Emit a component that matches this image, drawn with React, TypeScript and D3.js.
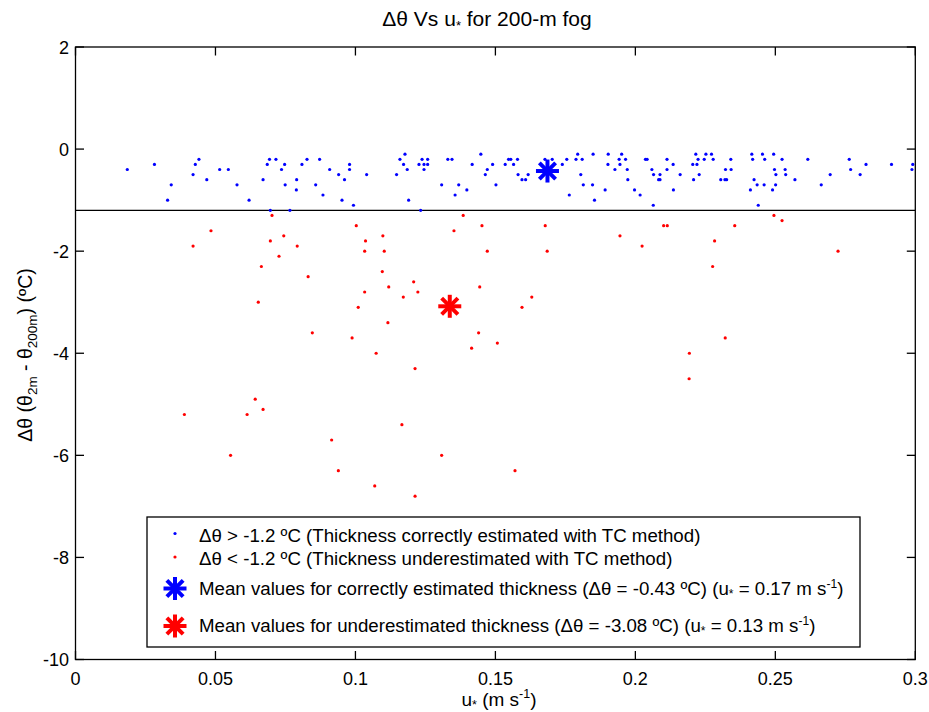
import React from "react";
import * as d3 from "d3";

// ---- data ----
const blueU = [0.0185,0.0282,0.0329,0.0342,0.0420,0.0428,0.0441,0.0469,0.0515,0.0546,0.0577,0.0620,0.0670,0.0685,0.0693,0.0696,0.0716,0.0736,0.0747,0.0749,0.0766,0.0789,0.0790,0.0809,0.0827,0.0858,0.0872,0.0884,0.0908,0.0940,0.0952,0.0961,0.0979,0.0979,0.0993,0.1040,0.1147,0.1159,0.1172,0.1177,0.1185,0.1190,0.1227,0.1233,0.1238,0.1245,0.1245,0.1258,0.1258,0.1308,0.1330,0.1345,0.1356,0.1369,0.1398,0.1417,0.1448,0.1464,0.1471,0.1490,0.1502,
0.1535,0.1547,0.1555,0.1565,0.1579,0.1581,0.1595,0.1608,0.1617,0.1677,0.1703,0.1739,0.1755,0.1764,0.1788,0.1794,0.1805,0.1810,0.1814,0.1847,0.1849,0.1854,0.1892,0.1902,0.1903,0.1927,0.1942,0.1945,0.1951,0.1965,0.1971,0.1973,0.1997,0.2017,0.2036,0.2042,0.2059,0.2064,0.2065,0.2083,0.2088,0.2088,0.2113,0.2113,0.2135,0.2136,0.2160,0.2205,0.2208,0.2216,0.2220,0.2224,0.2228,0.2246,0.2252,0.2272,0.2278,0.2305,0.2320,0.2326,0.2322,0.2341,0.2342,0.2411,0.2416,0.2419,0.2424,0.2435,0.2439,0.2454,0.2460,0.2462,0.2490,0.2494,0.2497,0.2501,0.2502,0.2524,0.2535,0.2537,0.2570,0.2616,0.2664,0.2696,0.2764,0.2769,0.2803,0.2824,0.2915,0.2988,0.2991];
const blueD = [-0.4,-0.3,-1.0,-0.7,-0.5,-0.3,-0.2,-0.6,-0.4,-0.4,-0.7,-1.0,-0.6,-0.3,-0.2,-1.2,-0.2,-0.4,-0.3,-0.7,-1.2,-0.8,-0.6,-0.3,-0.2,-0.7,-0.2,-0.9,-0.4,-0.5,-1.0,-0.6,-0.3,-0.4,-1.1,-0.5,-0.5,-0.2,-0.3,-0.1,-0.4,-1.0,-0.3,-1.2,-0.2,-0.4,-0.3,-0.2,-0.3,-0.7,-0.2,-0.2,-0.9,-0.7,-0.8,-0.3,-0.1,-0.5,-0.4,-0.3,-0.7,
-0.3,-0.2,-0.2,-0.3,-0.2,-0.5,-0.6,-0.6,-0.5,-0.2,-0.2,-0.3,-0.2,-0.9,-0.2,-0.1,-0.5,-0.2,-0.7,-0.7,-0.1,-1.0,-0.8,-0.3,-0.1,-0.4,-0.2,-0.3,-0.1,-0.2,-0.4,-0.6,-0.8,-0.9,-0.2,-0.2,-0.4,-1.1,-0.5,-0.6,-0.5,-0.6,-0.2,-0.4,-0.3,-0.8,-0.5,-0.3,-0.6,-0.1,-0.3,-0.2,-0.5,-0.2,-0.1,-0.1,-0.2,-0.6,-0.6,-0.6,-0.4,-0.2,-0.4,-0.8,-0.1,-0.2,-0.6,-0.7,-1.1,-0.1,-0.7,-0.2,-0.8,-0.1,-0.4,-0.7,-0.5,-0.2,-0.4,-0.5,-0.6,-0.2,-0.7,-0.5,-0.2,-0.4,-0.5,-0.3,-0.3,-0.4,-0.3];

const redU = [0.0702,0.0484,0.0420,0.0696,0.0744,0.0792,0.0727,0.0664,0.0831,0.0653,0.1003,0.1010,0.0846,0.0988,0.0642,0.0389,0.0613,0.0670,0.0554,0.0915,0.0939,0.1385,0.1452,0.1678,0.1352,0.1098,0.1945,0.1036,0.1033,0.1103,0.1471,0.1685,0.1096,0.1208,0.1119,0.1033,0.1223,0.1444,0.1171,0.1630,0.1595,0.1116,0.1440,0.1507,0.1415,0.1074,0.1213,0.1166,0.1308,0.1570,0.1069,0.1213,0.2495,0.2524,0.2101,0.2114,0.2355,0.2024,0.2283,0.2724,0.2276,0.2321,0.2193,0.2192];
const redD = [-1.3,-1.6,-1.9,-1.8,-1.7,-1.9,-2.1,-2.3,-2.5,-3.0,-1.5,-3.1,-3.6,-3.7,-4.9,-5.2,-5.2,-5.1,-6.0,-5.7,-6.3,-1.3,-1.5,-1.5,-1.6,-1.7,-1.7,-1.8,-2.0,-2.0,-2.0,-2.0,-2.4,-2.6,-2.7,-2.8,-2.8,-2.7,-2.9,-2.9,-3.1,-3.4,-3.6,-3.8,-3.9,-4.0,-4.3,-5.4,-6.0,-6.3,-6.6,-6.8,-1.3,-1.4,-1.5,-1.5,-1.5,-1.9,-1.8,-2.0,-2.3,-3.7,-4.0,-4.5];

const meanBlue = { u: 0.1686, d: -0.43 };
const meanRed = { u: 0.1337, d: -3.08 };
const threshold = -1.2;

const xTicks = [0, 0.05, 0.1, 0.15, 0.2, 0.25, 0.3];
const yTicks = [2, 0, -2, -4, -6, -8, -10];
const xDomain = [0, 0.3];
const yDomain = [-10, 2];

const legendLabels = [
  "Δθ > -1.2 ºC (Thickness correctly estimated with TC method)",
  "Δθ < -1.2 ºC (Thickness underestimated with TC method)",
];

// ---- layout ----
const W = 929, H = 712;
const L = 75.5, R = 915.3, T = 47, B = 659.5;
const FONT = "'Liberation Sans', Arial, Helvetica, sans-serif";
const BLUE = "#0000ff", RED = "#ff0000";

function Star({ cx, cy, color, r = 11.5 }: { cx: number; cy: number; color: string; r?: number }) {
  const arms = d3.range(4).map((i) => (i * Math.PI) / 4);
  return (
    <g stroke={color} strokeWidth={4} strokeLinecap="butt">
      {arms.map((a, i) => (
        <line key={i} x1={cx - r * Math.cos(a)} y1={cy - r * Math.sin(a)} x2={cx + r * Math.cos(a)} y2={cy + r * Math.sin(a)} />
      ))}
    </g>
  );
}

export default function App() {
  const x = d3.scaleLinear().domain(xDomain).range([L, R]);
  const y = d3.scaleLinear().domain(yDomain).range([B, T]);
  const tickLen = 8.5;
  const fmtX = (v: number) => String(+v.toFixed(2));

  const blue = blueU.map((u, i) => ({ u, d: blueD[i] }));
  const red = redU.map((u, i) => ({ u, d: redD[i] }));

  const lgX = 147, lgY = 517, lgW = 713, lgH = 130;
  const mx = 175, tx = 199;
  const LF = 18.7;

  return (
    <svg width={W} height={H} style={{ position: "absolute", left: 0, top: 0, background: "#fff" }} fontFamily={FONT}>
      <rect x={0} y={0} width={W} height={H} fill="#fff" />
      {/* title */}
      <text x={487} y={26} fontSize={21} textAnchor="middle" fill="#000">
        Δθ Vs u<tspan fontSize={13} dy={4}>*</tspan><tspan dy={-4}> for 200-m fog</tspan>
      </text>

      {/* threshold line */}
      <line x1={x(xDomain[0])} x2={x(xDomain[1])} y1={y(threshold)} y2={y(threshold)} stroke="#000" strokeWidth={1.3} />

      {/* points */}
      {blue.map((p, i) => (
        <circle key={"b" + i} cx={x(p.u)} cy={y(p.d)} r={1.6} fill={BLUE} />
      ))}
      {red.map((p, i) => (
        <circle key={"r" + i} cx={x(p.u)} cy={y(p.d)} r={1.6} fill={RED} />
      ))}
      <Star cx={x(meanBlue.u)} cy={y(meanBlue.d)} color={BLUE} />
      <Star cx={x(meanRed.u)} cy={y(meanRed.d)} color={RED} />

      {/* axes box */}
      <rect x={L} y={T} width={R - L} height={B - T} fill="none" stroke="#000" strokeWidth={1.3} />
      {xTicks.map((t, i) => (
        <g key={"xt" + i}>
          <line x1={x(t)} x2={x(t)} y1={B} y2={B - tickLen} stroke="#000" strokeWidth={1.3} />
          <line x1={x(t)} x2={x(t)} y1={T} y2={T + tickLen} stroke="#000" strokeWidth={1.3} />
          <text x={x(t)} y={B + 25} fontSize={18} textAnchor="middle" fill="#000">{fmtX(t)}</text>
        </g>
      ))}
      {yTicks.map((t, i) => (
        <g key={"yt" + i}>
          <line x1={L} x2={L + tickLen} y1={y(t)} y2={y(t)} stroke="#000" strokeWidth={1.3} />
          <line x1={R} x2={R - tickLen} y1={y(t)} y2={y(t)} stroke="#000" strokeWidth={1.3} />
          <text x={69} y={y(t) + 6.5} fontSize={18} textAnchor="end" fill="#000">{String(t)}</text>
        </g>
      ))}

      {/* axis labels */}
      <text x={499} y={706} fontSize={19} textAnchor="middle" fill="#000">
        u<tspan fontSize={12.5} dy={2.5}>*</tspan><tspan dy={-2.5}> (m s</tspan><tspan fontSize={12.5} dy={-8}>-1</tspan><tspan dy={8}>)</tspan>
      </text>
      <text transform="translate(32,355) rotate(-90)" fontSize={19.5} textAnchor="middle" fill="#000">
        Δθ (θ<tspan fontSize={13.5} dy={5}>2m</tspan><tspan dy={-5}> - θ</tspan><tspan fontSize={13.5} dy={5}>200m</tspan><tspan dy={-5}>) (ºC)</tspan>
      </text>

      {/* legend */}
      <rect x={lgX} y={lgY} width={lgW} height={lgH} fill="#fff" stroke="#000" strokeWidth={1.3} />
      <circle cx={mx} cy={533.5} r={1.6} fill={BLUE} />
      <text x={tx} y={541.5} fontSize={LF} fill="#000">{legendLabels[0]}</text>
      <circle cx={mx} cy={557} r={1.6} fill={RED} />
      <text x={tx} y={564.5} fontSize={LF} fill="#000">{legendLabels[1]}</text>
      <Star cx={mx} cy={588.5} color={BLUE} />
      <text x={tx} y={594.5} fontSize={LF} fill="#000">
        Mean values for correctly estimated thickness (Δθ = {meanBlue.d.toFixed(2)} ºC) (u<tspan fontSize={12} dy={3}>*</tspan><tspan dy={-3}> = 0.17 m s</tspan><tspan fontSize={12} dy={-7}>-1</tspan><tspan dy={7}>)</tspan>
      </text>
      <Star cx={mx} cy={626} color={RED} />
      <text x={tx} y={632} fontSize={LF} fill="#000">
        Mean values for underestimated thickness (Δθ = {meanRed.d.toFixed(2)} ºC) (u<tspan fontSize={12} dy={3}>*</tspan><tspan dy={-3}> = 0.13 m s</tspan><tspan fontSize={12} dy={-7}>-1</tspan><tspan dy={7}>)</tspan>
      </text>
    </svg>
  );
}
